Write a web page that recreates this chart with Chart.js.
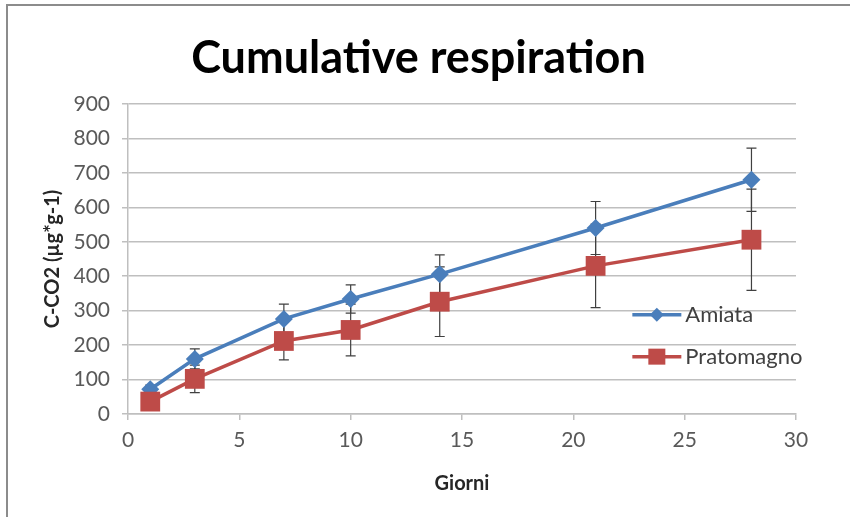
<!DOCTYPE html>
<html lang="it">
<head>
<meta charset="UTF-8">
<title>Cumulative respiration</title>
<script src="https://cdn.jsdelivr.net/npm/chart.js"></script>
<style>
  body { margin: 0; background: #fff; }
  #wrap { position: relative; width: 850px; height: 517px; }
  #frame { position: absolute; left: 6px; top: 4px; right: 0; bottom: 0;
           border-left: 2px solid #8c8c8c; border-top: 2px solid #8c8c8c; pointer-events: none; }
</style>
</head>
<body>
<div id="wrap">
  <canvas id="grafico" width="850" height="517"></canvas>
  <div id="frame"></div>
</div>
<script>
// dati
const giorni = [1, 3, 7, 10, 14, 21, 28];
const amiata = [72, 160, 276, 334, 406, 540, 680];
const amiataErr = [12, 29, 43, 41, 56, 77, 92];
const pratomagno = [36, 102, 212, 244, 326, 430, 506];
const pratomagnoErr = [14, 40, 55, 75, 101, 121, 147];
const xTicks = [0, 5, 10, 15, 20, 25, 30];
const yTicks = [0, 100, 200, 300, 400, 500, 600, 700, 800, 900];

const blu = '#4a7ebb';
const rosso = '#be4b48';

// barre d'errore disegnate con le scale del grafico
const erroriPlugin = {
  id: 'errori',
  beforeDatasetsDraw(chart) {
    const { ctx, scales: { x, y } } = chart;
    ctx.save();
    ctx.strokeStyle = '#404040';
    ctx.lineWidth = 1.2;
    chart.data.datasets.forEach(ds => {
      ds.data.forEach((p, i) => {
        const px = x.getPixelForValue(p.x);
        const top = y.getPixelForValue(p.y + ds.err[i]);
        const bot = y.getPixelForValue(p.y - ds.err[i]);
        ctx.beginPath();
        ctx.moveTo(px, top); ctx.lineTo(px, bot);
        ctx.moveTo(px - 5, top); ctx.lineTo(px + 5, top);
        ctx.moveTo(px - 5, bot); ctx.lineTo(px + 5, bot);
        ctx.stroke();
      });
    });
    ctx.restore();
  }
};

// legenda dentro l'area del grafico
const legendaPlugin = {
  id: 'legenda',
  afterDraw(chart) {
    const { ctx, chartArea: a } = chart;
    const x0 = a.left + (a.right - a.left) * 0.755;
    const righe = [
      { ds: chart.data.datasets[0], y: a.top + (a.bottom - a.top) * 0.68 },
      { ds: chart.data.datasets[1], y: a.top + (a.bottom - a.top) * 0.815 }
    ];
    ctx.save();
    righe.forEach(r => {
      ctx.strokeStyle = r.ds.borderColor;
      ctx.fillStyle = r.ds.borderColor;
      ctx.lineWidth = 3.5;
      ctx.beginPath();
      ctx.moveTo(x0, r.y); ctx.lineTo(x0 + 49, r.y);
      ctx.stroke();
      ctx.beginPath();
      if (r.ds.pointStyle === 'rectRot') {
        ctx.moveTo(x0 + 24.5, r.y - 7); ctx.lineTo(x0 + 31.5, r.y);
        ctx.lineTo(x0 + 24.5, r.y + 7); ctx.lineTo(x0 + 17.5, r.y);
      } else {
        ctx.rect(x0 + 16, r.y - 8, 17, 16);
      }
      ctx.fill();
      ctx.fillStyle = '#404040';
      ctx.font = '22px Lato';
      ctx.textBaseline = 'middle';
      ctx.fillText(r.ds.label, x0 + 53, r.y);
    });
    ctx.restore();
  }
};

new Chart(document.getElementById('grafico'), {
  type: 'line',
  data: {
    datasets: [
      {
        label: 'Amiata',
        data: giorni.map((g, i) => ({ x: g, y: amiata[i] })),
        err: amiataErr,
        borderColor: blu,
        backgroundColor: blu,
        borderWidth: 3.5,
        pointStyle: 'rectRot',
        pointRadius: 9,
        pointBorderWidth: 0,
        order: 1
      },
      {
        label: 'Pratomagno',
        data: giorni.map((g, i) => ({ x: g, y: pratomagno[i] })),
        err: pratomagnoErr,
        borderColor: rosso,
        backgroundColor: rosso,
        borderWidth: 3.5,
        pointStyle: 'rect',
        pointRadius: 14,
        pointBorderWidth: 0,
        order: 0
      }
    ]
  },
  options: {
    responsive: false,
    animation: false,
    layout: { padding: { left: 41, right: 54, top: 23, bottom: 10 } },
    plugins: {
      legend: { display: false },
      tooltip: { enabled: false },
      title: {
        display: true,
        text: 'Cumulative respiration',
        color: '#000',
        font: { family: 'Lato', size: 45, weight: 'bold' },
        padding: { top: 8, bottom: 19 }
      }
    },
    scales: {
      x: {
        type: 'linear',
        min: 0, max: 30,
        afterBuildTicks: s => { s.ticks = xTicks.map(v => ({ value: v })); },
        afterFit: s => { s.height = 517 - 414 - 10; },
        grid: { drawOnChartArea: false, drawTicks: true, tickLength: 6, color: '#bfbfbf', lineWidth: 1.5 },
        border: { color: '#bfbfbf', width: 1.5 },
        ticks: { color: '#595959', font: { family: 'Lato', size: 21 }, padding: 8, maxRotation: 0 },
        title: { display: true, text: 'Giorni', color: '#262626',
                 font: { family: 'Lato', size: 20, weight: 'bold' }, padding: { top: 4, bottom: 11 } }
      },
      y: {
        min: 0, max: 900,
        afterBuildTicks: s => { s.ticks = yTicks.map(v => ({ value: v })); },
        afterFit: s => { s.width = 128 - 41; },
        grid: { color: '#bfbfbf', lineWidth: 1.5, tickLength: 6 },
        border: { color: '#bfbfbf', width: 1.5 },
        ticks: { color: '#595959', font: { family: 'Lato', size: 21 }, padding: 12 },
        title: { display: true, text: 'C-CO2 (µg*g-1)', color: '#262626',
                 font: { family: 'Lato', size: 20, weight: 'bold' }, padding: { top: 0, bottom: 0 } }
      }
    }
  },
  plugins: [erroriPlugin, legendaPlugin]
});
</script>
</body>
</html>
